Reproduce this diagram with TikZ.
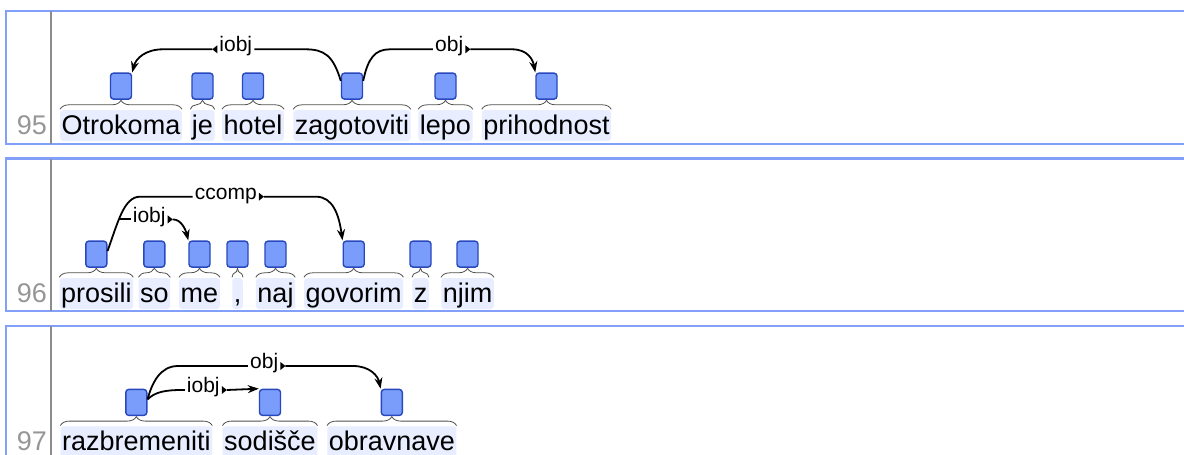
\documentclass[tikz,border=0pt]{standalone}
\usepackage{fontspec}
\setmainfont{Liberation Sans}
\usetikzlibrary{positioning,arrows.meta,decorations.pathreplacing}
\definecolor{framecol}{RGB}{130,160,250}
\definecolor{sepgray}{RGB}{140,140,140}
\definecolor{numgray}{RGB}{150,150,150}
\definecolor{wordbg}{RGB}{232,238,255}
\definecolor{tokfill}{RGB}{122,156,250}
\definecolor{tokdraw}{RGB}{40,72,190}
\definecolor{bracegray}{RGB}{80,80,80}

\begin{document}
\begin{tikzpicture}[
        x=1pt, y=-1pt,
        word/.style={fill=wordbg,rounded corners=3pt,anchor=base,inner xsep=1.5pt,inner ysep=2pt,
            text height=22pt,text depth=5pt,font=\fontsize{27}{30}\selectfont},
        tok/.style={draw=tokdraw,fill=tokfill,line width=1.4pt,rounded corners=3pt,
            minimum width=21pt,minimum height=26pt,inner sep=0pt},
        brc/.style={draw=bracegray,line width=0.8pt,decorate,decoration={brace,amplitude=9pt,raise=0.5pt}},
        lbl/.style={anchor=mid,inner xsep=2pt,inner ysep=1pt,font=\fontsize{21}{24}\selectfont},
        rel/.style={line width=1.8pt},
        num/.style={anchor=base east,inner sep=0pt,text=numgray,font=\fontsize{27}{30}\selectfont},
        sent/.style={draw=framecol,line width=2.2pt},
        numsep/.style={draw=sepgray,line width=2pt},
        >={Stealth[length=11pt,width=8pt]}
    ]

    \tikzset{
        node distance=10pt,
    }

    \useasboundingbox (0,0) rectangle (1184,455);
    \clip (0,0) rectangle (1184,455);
    \fill[white] (0,0) rectangle (1184,455);

    % sentence frames
    \draw[sent] (6,11) rectangle (1195,144);
    \draw[sent] (6,158.5) rectangle (1195,311);
    \draw[sent] (6,326) rectangle (1195,470);
    \draw[numsep] (51,11) -- (51,144);
    \draw[numsep] (51,158.5) -- (51,311);
    \draw[numsep] (51,326) -- (51,470);

    \node[num] (n95) at (47,134) {95};
    \node[num] (n96) at (47,302) {96};
    \node[num] (n97) at (47,450.3) {97};

    % sentence 95
    \node[word] (w1a) at (121,134) {Otrokoma};
    \node[word] (w1b) at (202.5,134) {je};
    \node[word] (w1c) at (253,134) {hotel};
    \node[word] (w1d) at (352,134) {zagotoviti};
    \node[word] (w1e) at (445.5,134) {lepo};
    \node[word] (w1f) at (546.5,134) {prihodnost};
    \node[tok,above=of w1a] (t1a) {};
    \node[tok,above=of w1b] (t1b) {};
    \node[tok,above=of w1c] (t1c) {};
    \node[tok,above=of w1d] (t1d) {};
    \node[tok,above=of w1e] (t1e) {};
    \node[tok,above=of w1f] (t1f) {};
    \draw[brc] (w1a.north west) -- (w1a.north east);
    \draw[brc] (w1b.north west) -- (w1b.north east);
    \draw[brc] (w1c.north west) -- (w1c.north east);
    \draw[brc] (w1d.north west) -- (w1d.north east);
    \draw[brc] (w1e.north west) -- (w1e.north east);
    \draw[brc] (w1f.north west) -- (w1f.north east);

    \node[lbl] (L1a) at (235.8,49.3) {iobj};
    \node[lbl] (L1b) at (449.2,49.3) {obj};
    \draw[rel] (t1d.155) .. controls (333,55) and (324,49.3) .. (305,49.3) -- (L1a.mid east);
    \fill (L1a.mid west) -- ++(0,4pt) -- ++(-5pt,-4pt) -- ++(5pt,-4pt) -- cycle;
    \draw[rel,->] ([xshift=-5pt]L1a.mid west) -- (163,49.3) .. controls (146,49.3) and (136,58) .. (t1a.north east);
    \draw[rel] (t1d.25) .. controls (368,58) and (375,49.3) .. (390,49.3) -- (L1b.mid west);
    \fill (L1b.mid east) -- ++(0,4pt) -- ++(5pt,-4pt) -- ++(-5pt,-4pt) -- cycle;
    \draw[rel,->] ([xshift=5pt]L1b.mid east) -- (512,49.3) .. controls (528,49.3) and (533,60) .. (t1f.north west);

    % sentence 96
    \node[word] (w2a) at (96.3,302) {prosili};
    \node[word] (w2b) at (154.3,302) {so};
    \node[word] (w2c) at (199.5,302) {me};
    \node[word] (w2d) at (237.5,302) {,};
    \node[word] (w2e) at (275.5,302) {naj};
    \node[word] (w2f) at (353.7,302) {govorim};
    \node[word] (w2g) at (420.5,302) {z};
    \node[word] (w2h) at (467.5,302) {njim};
    \node[tok,above=of w2a] (t2a) {};
    \node[tok,above=of w2b] (t2b) {};
    \node[tok,above=of w2c] (t2c) {};
    \node[tok,above=of w2d] (t2d) {};
    \node[tok,above=of w2e] (t2e) {};
    \node[tok,above=of w2f] (t2f) {};
    \node[tok,above=of w2g] (t2g) {};
    \node[tok,above=of w2h] (t2h) {};
    \draw[brc] (w2a.north west) -- (w2a.north east);
    \draw[brc] (w2b.north west) -- (w2b.north east);
    \draw[brc] (w2c.north west) -- (w2c.north east);
    \draw[brc] (w2d.north west) -- (w2d.north east);
    \draw[brc] (w2e.north west) -- (w2e.north east);
    \draw[brc] (w2f.north west) -- (w2f.north east);
    \draw[brc] (w2g.north west) -- (w2g.north east);
    \draw[brc] (w2h.north west) -- (w2h.north east);

    \node[lbl] (L2a) at (225.8,196.7) {ccomp};
    \draw[rel] (t2a.15) .. controls (118,222) and (124,196.7) .. coordinate[pos=0.4] (c2) (140,196.7) -- (L2a.mid west);
    \fill (L2a.mid east) -- ++(0,4pt) -- ++(5pt,-4pt) -- ++(-5pt,-4pt) -- cycle;
    \draw[rel,->] ([xshift=5pt]L2a.mid east) -- (316,196.7) .. controls (333,196.7) and (339,215) .. (t2f.north west);
    \coordinate (x2b) at (149.2,0);
    \node[lbl] (L2b) at (c2 -| x2b) {iobj};
    \draw[rel] (c2) -- (L2b.mid west);
    \fill (L2b.mid east) -- ++(0,4pt) -- ++(5pt,-4pt) -- ++(-5pt,-4pt) -- cycle;
    \draw[rel,->] ([xshift=5pt]L2b.mid east) .. controls +(8pt,0) and +(-3pt,12pt) .. (t2c.north west);

    % sentence 97
    \node[word] (w3a) at (136.3,450.3) {razbremeniti};
    \node[word] (w3b) at (270,450.3) {sodišče};
    \node[word] (w3c) at (391.8,450.3) {obravnave};
    \node[tok,above=of w3a] (t3a) {};
    \node[tok,above=of w3b] (t3b) {};
    \node[tok,above=of w3c] (t3c) {};
    \draw[brc] (w3a.north west) -- (w3a.north east);
    \draw[brc] (w3b.north west) -- (w3b.north east);
    \draw[brc] (w3c.north west) -- (w3c.north east);

    \node[lbl] (L3a) at (264.2,366) {obj};
    \node[lbl] (L3b) at (203.3,390) {iobj};
    \draw[rel] (t3a.15) .. controls (152,383) and (160,366) .. (178,366) -- (L3a.mid west);
    \fill (L3a.mid east) -- ++(0,4pt) -- ++(5pt,-4pt) -- ++(-5pt,-4pt) -- cycle;
    \draw[rel,->] ([xshift=5pt]L3a.mid east) -- (353,366) .. controls (370,366) and (378,376) .. (t3c.north west);
    \draw[rel] (t3a.15) .. controls (155,392) and (165,390) .. (182,390) -- (L3b.mid west);
    \fill (L3b.mid east) -- ++(0,4pt) -- ++(5pt,-4pt) -- ++(-5pt,-4pt) -- cycle;
    \draw[rel,->] ([xshift=5pt]L3b.mid east) -- (t3b.north west);

\end{tikzpicture}
\end{document}
